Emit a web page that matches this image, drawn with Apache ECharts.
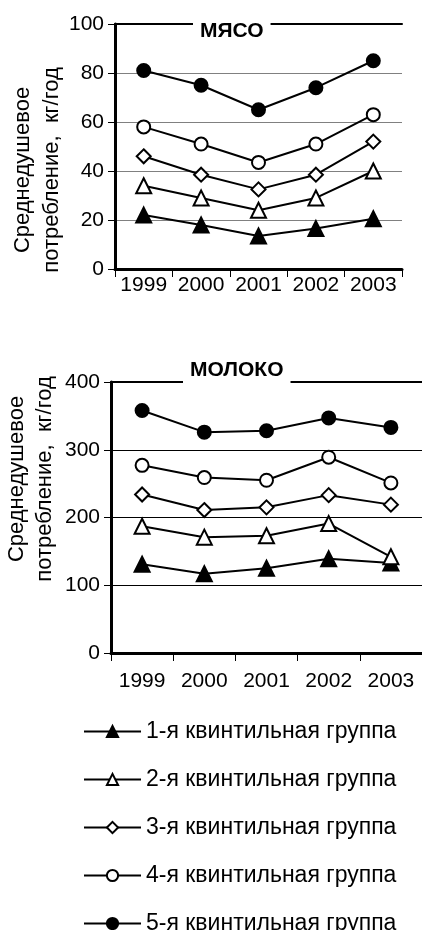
<!DOCTYPE html>
<html>
<head>
<meta charset="utf-8">
<script src="https://cdn.jsdelivr.net/npm/echarts@6/dist/echarts.min.js"></script>
<style>
  html, body { margin: 0; padding: 0; background: #fff; }
  #chart { width: 422px; height: 930px; }
</style>
</head>
<body>
<div id="chart"></div>
<script>
// Years on the x axis (shared by both panels)
const years = ['1999', '2000', '2001', '2002', '2003'];

// Legend names, one per quintile group
const groupNames = [
  '1-я квинтильная группа',
  '2-я квинтильная группа',
  '3-я квинтильная группа',
  '4-я квинтильная группа',
  '5-я квинтильная группа'
];

// Meat consumption, kg per year
const meatQ1 = [22, 18, 13.5, 16.5, 20.5];
const meatQ2 = [34, 29, 24, 29, 40];
const meatQ3 = [46, 38.5, 32.5, 38.5, 52];
const meatQ4 = [58, 51, 43.5, 51, 63];
const meatQ5 = [81, 75, 65, 74, 85];

// Milk consumption, kg per year
const milkQ1 = [131, 117, 125, 139, 133];
const milkQ2 = [187, 171, 173, 191, 142];
const milkQ3 = [234, 211, 215, 233, 219];
const milkQ4 = [277, 259, 255, 289, 251];
const milkQ5 = [358, 326, 328, 347, 333];

const meatTicks = { min: 0, max: 100, interval: 20 };
const milkTicks = { min: 0, max: 400, interval: 100 };

const FONT = '"Liberation Sans", Arial, sans-serif';

// marker look for each quintile: filled triangle, open triangle, open diamond, open circle, filled circle
const markers = [
  { symbol: 'triangle', size: 15, fill: '#000' },
  { symbol: 'triangle', size: 15, fill: '#fff' },
  { symbol: 'diamond', size: 14, fill: '#fff' },
  { symbol: 'circle', size: 13, fill: '#fff' },
  { symbol: 'circle', size: 13, fill: '#000' }
];

function lineSeries(idx, data, axisIdx) {
  const m = markers[idx];
  return {
    name: groupNames[idx],
    type: 'line',
    xAxisIndex: axisIdx,
    yAxisIndex: axisIdx,
    data: data,
    symbol: m.symbol,
    symbolSize: m.size,
    showAllSymbol: true,
    lineStyle: { color: '#000', width: 2 },
    itemStyle: { color: m.fill, borderColor: '#000', borderWidth: 2 },
    emphasis: { disabled: true },
    animation: false
  };
}

function catAxis(gridIndex, labelMargin) {
  return {
    type: 'category',
    gridIndex: gridIndex,
    data: years,
    boundaryGap: true,
    axisLine: { lineStyle: { color: '#000', width: 3 } },
    axisTick: { show: true, length: 8, lineStyle: { color: '#000', width: 1 } },
    axisLabel: { color: '#000', fontSize: 21, fontFamily: FONT, margin: labelMargin, interval: 0 }
  };
}

// extra axis on top of each panel, only used to draw the heavy upper border
function topBorder(gridIndex) {
  return {
    type: 'category',
    gridIndex: gridIndex,
    position: 'top',
    data: years,
    axisLine: { lineStyle: { color: '#000', width: 2 } },
    axisTick: { show: false },
    axisLabel: { show: false }
  };
}

function valAxis(gridIndex, ticks, gridColor) {
  return {
    type: 'value',
    gridIndex: gridIndex,
    min: ticks.min,
    max: ticks.max,
    interval: ticks.interval,
    axisLine: { show: true, lineStyle: { color: '#000', width: 3 } },
    axisTick: { show: true, length: 7, lineStyle: { color: '#000', width: 1 } },
    axisLabel: { color: '#000', fontSize: 21, fontFamily: FONT, margin: 11 },
    splitLine: {
      show: true,
      showMinLine: false,
      showMaxLine: false,
      lineStyle: { color: gridColor, width: 1 }
    }
  };
}

// two-line rotated y axis title
function axisTitle(x1, x2, cy) {
  const style = { fontSize: 22, fontFamily: FONT, fill: '#000',
                  textAlign: 'center', textVerticalAlign: 'middle' };
  return [
    { type: 'text', x: x1, y: cy, rotation: Math.PI / 2,
      style: Object.assign({ text: 'Среднедушевое' }, style) },
    { type: 'text', x: x2, y: cy, rotation: Math.PI / 2,
      style: Object.assign({ text: 'потребление,  кг/год' }, style) }
  ];
}

const chart = echarts.init(document.getElementById('chart'), null, { renderer: 'canvas' });

const meatData = [meatQ1, meatQ2, meatQ3, meatQ4, meatQ5];
const milkData = [milkQ1, milkQ2, milkQ3, milkQ4, milkQ5];

const series = [];
meatData.forEach((d, i) => series.push(lineSeries(i, d, 0)));
milkData.forEach((d, i) => series.push(lineSeries(i, d, 1)));

const titleBox = {
  backgroundColor: '#fff',
  padding: [2, 7],
  textStyle: { color: '#000', fontSize: 21, fontWeight: 'bold', fontFamily: FONT }
};

chart.setOption({
  animation: false,
  backgroundColor: '#fff',
  title: [
    Object.assign({ text: 'МЯСО', left: 193, top: 19, z: 10 }, titleBox),
    Object.assign({ text: 'МОЛОКО', left: 183, top: 358, z: 10 }, titleBox)
  ],
  grid: [
    { left: 115, top: 24, width: 287, height: 245 },
    { left: 111, top: 382, width: 313, height: 271 }
  ],
  xAxis: [catAxis(0, 6), catAxis(1, 18), topBorder(0), topBorder(1)],
  yAxis: [valAxis(0, meatTicks, '#808080'), valAxis(1, milkTicks, '#000')],
  legend: {
    orient: 'vertical',
    left: 83,
    top: 720,
    height: 300,
    padding: 0,
    itemWidth: 57,
    itemHeight: 14,
    itemGap: 25,
    selectedMode: false,
    data: groupNames,
    textStyle: { color: '#000', fontSize: 23, lineHeight: 23, fontFamily: FONT }
  },
  graphic: axisTitle(23, 52, 170).concat(axisTitle(17, 45, 479)),
  series: series
});
</script>
</body>
</html>
